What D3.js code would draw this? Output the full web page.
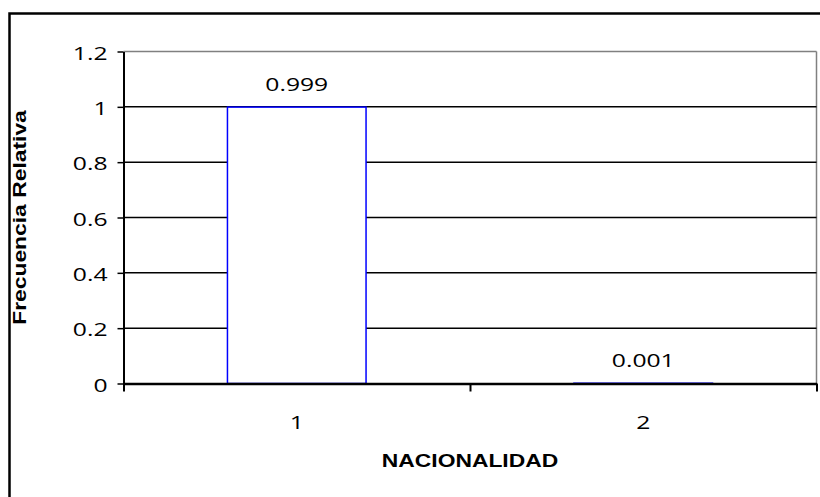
<!DOCTYPE html>
<html><head><meta charset="utf-8">
<script src="https://cdn.jsdelivr.net/npm/d3@7"></script>
<style>html,body{margin:0;padding:0;background:#fff;}svg{display:block;}</style>
</head><body>
<script>
const categories = ["1", "2"];
const values = [0.999, 0.001];
const valueLabels = ["0.999", "0.001"];
const yTicks = [0, 0.2, 0.4, 0.6, 0.8, 1, 1.2];
const yTickLabels = ["0", "0.2", "0.4", "0.6", "0.8", "1", "1.2"];
const xTitle = "NACIONALIDAD";
const yTitle = "Frecuencia Relativa";

const W = 820, H = 497;
const L = 123.5, R = 816.5, T = 51.5, B = 383.5;
const SX = 1.3, TSX = 1.27;
const tickFont = "Open Sans, Noto Sans, sans-serif";
const titleFont = "Liberation Sans, Arial, sans-serif";

const svg = d3.select("body").append("svg").attr("width", W).attr("height", H);
svg.append("rect").attr("width", W).attr("height", H).attr("fill", "#fff");

// outer border (extends past right/bottom)
svg.append("rect").attr("x", 9.5).attr("y", 13.5).attr("width", W + 20).attr("height", H + 20)
  .attr("fill", "none").attr("stroke", "#000").attr("stroke-width", 2.5);

const x = d3.scaleBand().domain(categories).range([L, R]).paddingInner(0).paddingOuter(0);
const y = d3.scaleLinear().domain([0, 1.2]).range([B, T]);

// plot area frame (gray top/right)
svg.append("line").attr("x1", L).attr("x2", R).attr("y1", y(1.2)).attr("y2", y(1.2))
  .attr("stroke", "#808080").attr("stroke-width", 1.5);
svg.append("line").attr("x1", R).attr("x2", R).attr("y1", T).attr("y2", B)
  .attr("stroke", "#808080").attr("stroke-width", 1.5);

// gridlines
svg.append("g").selectAll("line").data(yTicks.filter(t => t > 0 && t < 1.2)).join("line")
  .attr("x1", L).attr("x2", R).attr("y1", d => y(d)).attr("y2", d => y(d))
  .attr("stroke", "#000").attr("stroke-width", 1.5);

// bars
const bw = x.bandwidth() * 0.4;
svg.append("g").selectAll("rect").data(categories).join("rect")
  .attr("x", (d) => x(d) + (x.bandwidth() - bw) / 2)
  .attr("y", (d, i) => y(values[i]))
  .attr("width", bw)
  .attr("height", (d, i) => y(0) - y(values[i]))
  .attr("fill", "#fff").attr("stroke", "#0000ff").attr("stroke-width", 1.5);

// y axis
const yAxis = d3.axisLeft(y).tickValues(yTicks).tickFormat((d, i) => yTickLabels[i]).tickSize(6).tickSizeOuter(0).tickPadding(0);
const gy = svg.append("g").attr("transform", `translate(${L},0)`).call(yAxis);
gy.select(".domain").attr("stroke", "#000").attr("stroke-width", 2);
gy.selectAll(".tick line").attr("stroke", "#000").attr("stroke-width", 1.5);
gy.selectAll(".tick text").attr("x", null).attr("dy", null).attr("text-anchor", "end")
  .attr("dominant-baseline", "central")
  .attr("transform", `translate(-16,0) scale(${SX},1)`)
  .attr("font-family", tickFont).attr("font-size", 19).attr("fill", "#000");

// x axis
const xEdges = d3.scaleLinear().domain([0, categories.length]).range([L, R]);
const xAxis = d3.axisBottom(xEdges).tickValues(d3.range(categories.length + 1)).tickFormat("").tickSize(8).tickSizeOuter(0);
const gx = svg.append("g").attr("transform", `translate(0,${B})`).call(xAxis);
gx.select(".domain").attr("stroke", "#000").attr("stroke-width", 2.6);
gx.selectAll(".tick line").attr("stroke", "#000").attr("stroke-width", 2);

svg.append("g").selectAll("text").data(categories).join("text")
  .attr("transform", d => `translate(${x(d) + x.bandwidth() / 2},421) scale(${SX},1)`)
  .attr("text-anchor", "middle").attr("dominant-baseline", "central")
  .attr("font-family", tickFont).attr("font-size", 19).text(d => d);

// value labels
svg.append("g").selectAll("text").data(categories).join("text")
  .attr("transform", (d, i) => `translate(${x(d) + x.bandwidth() / 2},${y(values[i]) - 24}) scale(${SX},1)`)
  .attr("text-anchor", "middle").attr("dominant-baseline", "central")
  .attr("font-family", tickFont).attr("font-size", 19).text((d, i) => valueLabels[i]);

// titles
svg.append("text")
  .attr("transform", `translate(${(L + R) / 2},460) scale(${TSX},1)`)
  .attr("text-anchor", "middle").attr("dominant-baseline", "central")
  .attr("font-family", titleFont).attr("font-weight", "bold").attr("font-size", 18).text(xTitle);
svg.append("text")
  .attr("transform", `translate(19,${(T + B) / 2}) rotate(-90) scale(${TSX},1)`)
  .attr("text-anchor", "middle").attr("dominant-baseline", "central")
  .attr("font-family", titleFont).attr("font-weight", "bold").attr("font-size", 18).text(yTitle);
</script>
</body></html>
